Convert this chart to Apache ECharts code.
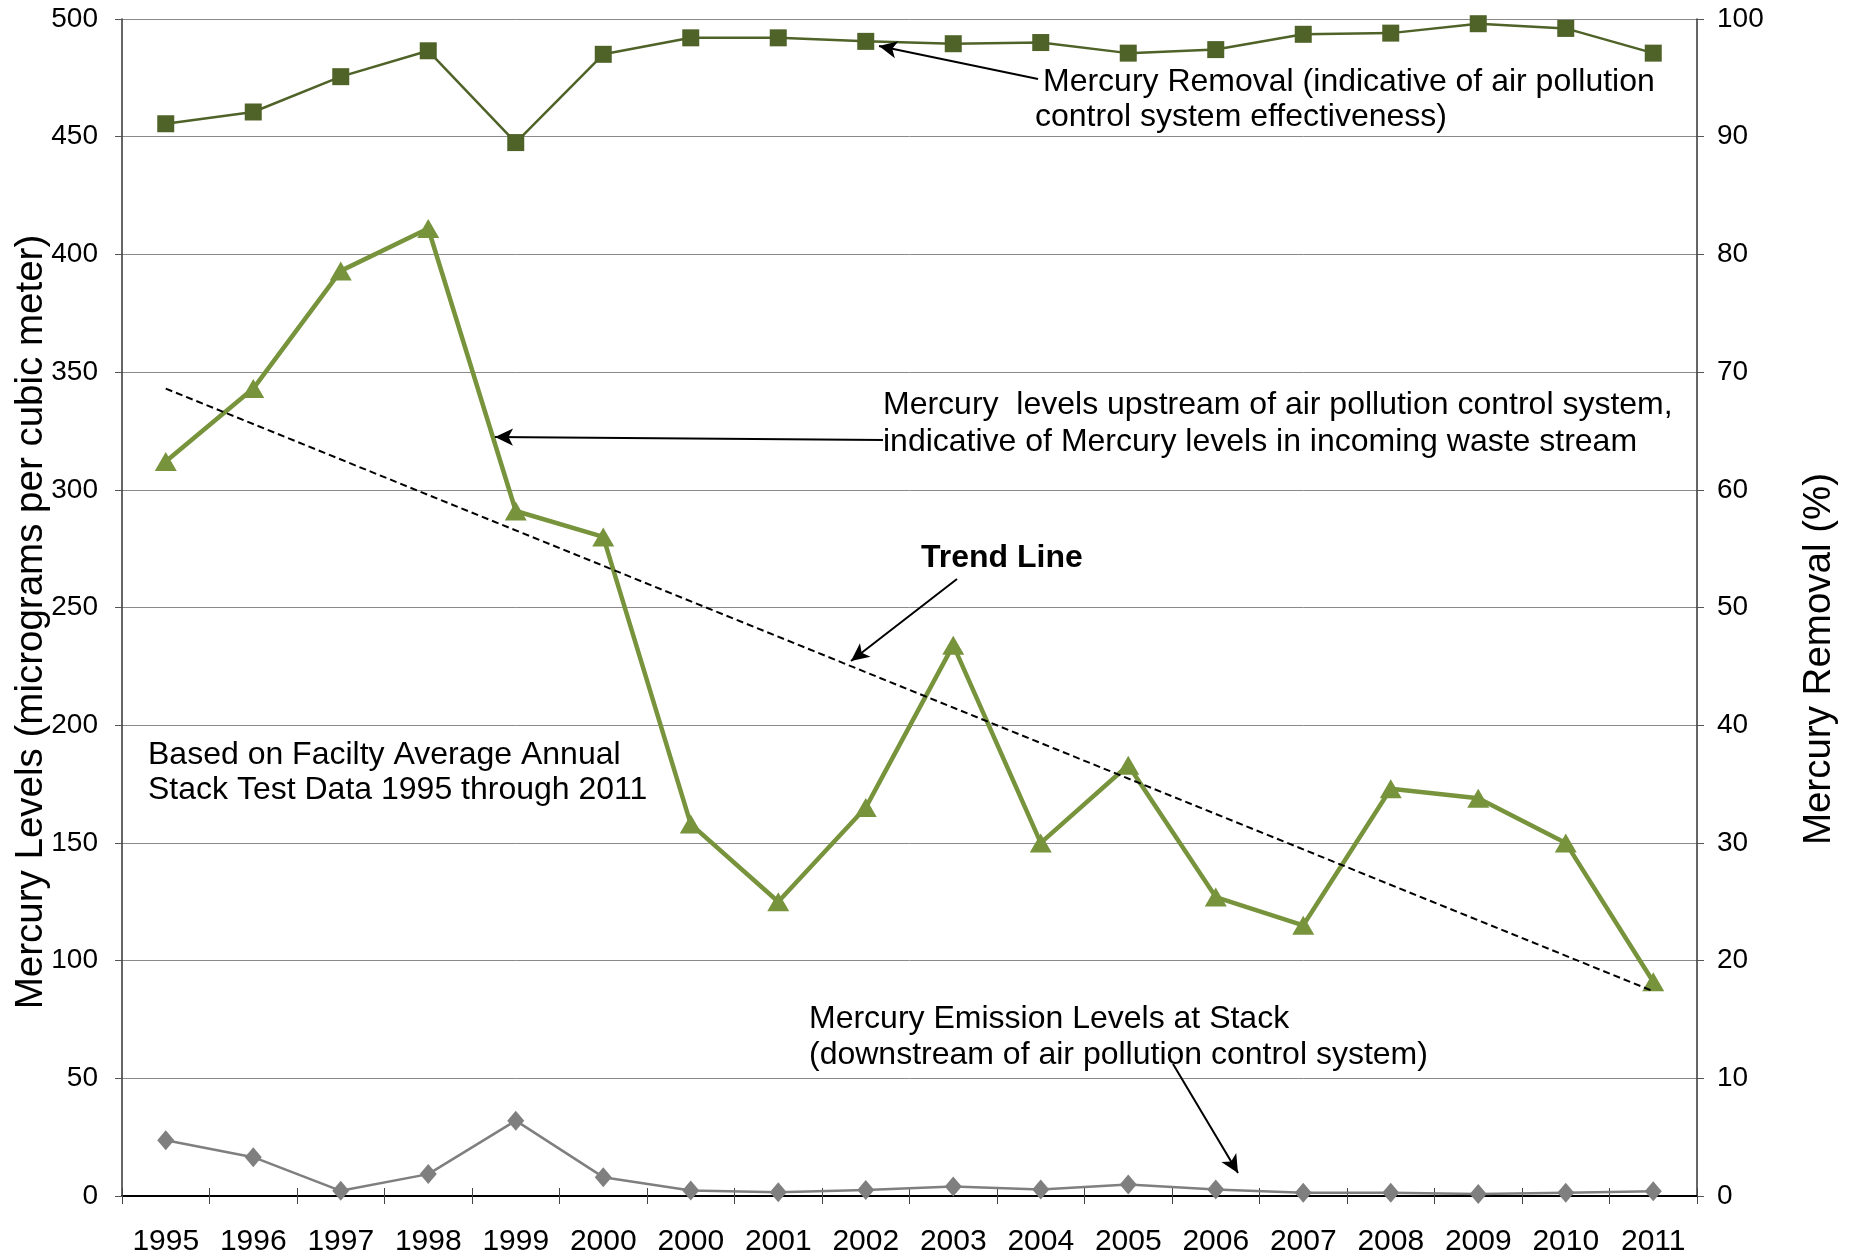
<!DOCTYPE html>
<html>
<head>
<meta charset="utf-8">
<script src="https://cdn.jsdelivr.net/npm/echarts@6/dist/echarts.min.js"></script>
<style>
html,body{margin:0;padding:0;background:#fff;}
#c{width:1858px;height:1257px;}
</style>
</head>
<body>
<div id="c"></div>
<script>
const categories = ['1995','1996','1997','1998','1999','2000','2000','2001','2002','2003','2004','2005','2006','2007','2008','2009','2010','2011'];
const upstream = [312,343,393,411,291,280,158,125,165,234,150,183,127,115,173,169,150,91];
const stackEmission = [23.7,16.5,2.2,9.3,32,8,2.3,1.6,2.5,4,2.8,4.9,2.8,1.4,1.4,0.8,1.4,2];
const removal = [91.1,92.1,95.1,97.3,89.5,97.0,98.4,98.4,98.1,97.9,98.0,97.1,97.4,98.7,98.8,99.6,99.2,97.1];
const trendEnds = [343, 87];
const leftTicks = {min:0, max:500, interval:50};
const rightTicks = {min:0, max:100, interval:10};

const FONT = '"Liberation Sans", Arial, sans-serif';
const n = categories.length;
const trendData = categories.map((c,i)=> i===0 ? trendEnds[0] : (i===n-1 ? trendEnds[1] : null));

function txt(x, y, text, size, bold){
  return {type:'text', x:x, y:y, silent:true,
    style:{text:text, fontSize:size, fontFamily:FONT, fontWeight: bold?'bold':'normal',
      fill:'#000', align:'left', verticalAlign:'middle'}};
}
function vtitle(x, y, text){
  return {type:'text', x:x, y:y, rotation:Math.PI/2, silent:true,
    style:{text:text, fontSize:38.5, fontFamily:FONT, fill:'#000', align:'center', verticalAlign:'middle'}};
}
function arrow(x1,y1,x2,y2){
  return [{x:x1,y:y1},{x:x2,y:y2}];
}

const chart = echarts.init(document.getElementById('c'));
chart.setOption({
  animation:false,
  backgroundColor:'#fff',
  grid:{left:122, right:161, top:19, bottom:59, containLabel:false},
  xAxis:[{
    type:'category', data:categories, boundaryGap:true, position:'bottom',
    axisLine:{show:true, lineStyle:{color:'#000', width:2}},
    axisTick:{show:true, inside:false, length:8, lineStyle:{color:'#444', width:1}},
    axisLabel:{color:'#000', fontSize:30, fontFamily:FONT, margin:31, interval:0},
    splitLine:{show:false}
  },{
    type:'category', data:categories, boundaryGap:true, position:'bottom',
    axisLine:{show:false},
    axisTick:{show:true, inside:true, length:8, lineStyle:{color:'#444', width:1}},
    axisLabel:{show:false}, splitLine:{show:false}
  }],
  yAxis:[{
    type:'value', min:leftTicks.min, max:leftTicks.max, interval:leftTicks.interval, position:'left',
    axisLine:{show:true, lineStyle:{color:'#333', width:1.5}},
    axisTick:{show:true, inside:false, length:7, lineStyle:{color:'#555'}},
    axisLabel:{color:'#000', fontSize:28, fontFamily:FONT, margin:24},
    splitLine:{show:true, lineStyle:{color:'#8a8a8a', width:1}}
  },{
    type:'value', min:rightTicks.min, max:rightTicks.max, interval:rightTicks.interval, position:'right',
    axisLine:{show:true, lineStyle:{color:'#333', width:1.5}},
    axisTick:{show:true, inside:false, length:7, lineStyle:{color:'#555'}},
    axisLabel:{color:'#000', fontSize:28, fontFamily:FONT, margin:20},
    splitLine:{show:false}
  }],
  series:[
    {name:'Upstream', type:'line', xAxisIndex:0, yAxisIndex:0, data:upstream,
      symbol:'triangle', symbolSize:[22,19], lineStyle:{color:'#77933C', width:4.5},
      itemStyle:{color:'#77933C'}, z:3},
    {name:'Stack', type:'line', xAxisIndex:0, yAxisIndex:0, data:stackEmission,
      symbol:'diamond', symbolSize:[17,20], lineStyle:{color:'#7F7F7F', width:2.5},
      itemStyle:{color:'#7F7F7F'}, z:3},
    {name:'Removal', type:'line', xAxisIndex:0, yAxisIndex:1, data:removal,
      symbol:'rect', symbolSize:17, lineStyle:{color:'#4F6228', width:2.5},
      itemStyle:{color:'#4F6228'}, z:3},
    {name:'Trend', type:'line', xAxisIndex:0, yAxisIndex:0, data:trendData, connectNulls:true,
      symbol:'none', lineStyle:{color:'#000', width:2, type:[7,4]}, z:4,
      markLine:{silent:true, symbol:['none','arrow'], symbolSize:[13,18],
        label:{show:false}, lineStyle:{color:'#000', width:2, type:'solid'},
        emphasis:{disabled:true},
        data:[
          arrow(1038,79,879,46),
          arrow(883,440,495,437),
          arrow(957,579,851,661),
          arrow(1173,1064,1238,1173)
        ]}}
  ],
  graphic:[
    vtitle(31, 622, 'Mercury Levels (micrograms per cubic meter)'),
    vtitle(1819, 659, 'Mercury Removal (%)'),
    txt(1043,82,'Mercury Removal (indicative of air pollution',32),
    txt(1035,117,'control system effectiveness)',32),
    txt(883,405,'Mercury  levels upstream of air pollution control system,',32),
    txt(883,442,'indicative of Mercury levels in incoming waste stream',32),
    txt(921,558,'Trend Line',32,true),
    txt(148,755,'Based on Facilty Average Annual',32),
    txt(148,790,'Stack Test Data 1995 through 2011',32),
    txt(809,1019,'Mercury Emission Levels at Stack',32),
    txt(809,1055,'(downstream of air pollution control system)',32)
  ]
});
</script>
</body>
</html>
